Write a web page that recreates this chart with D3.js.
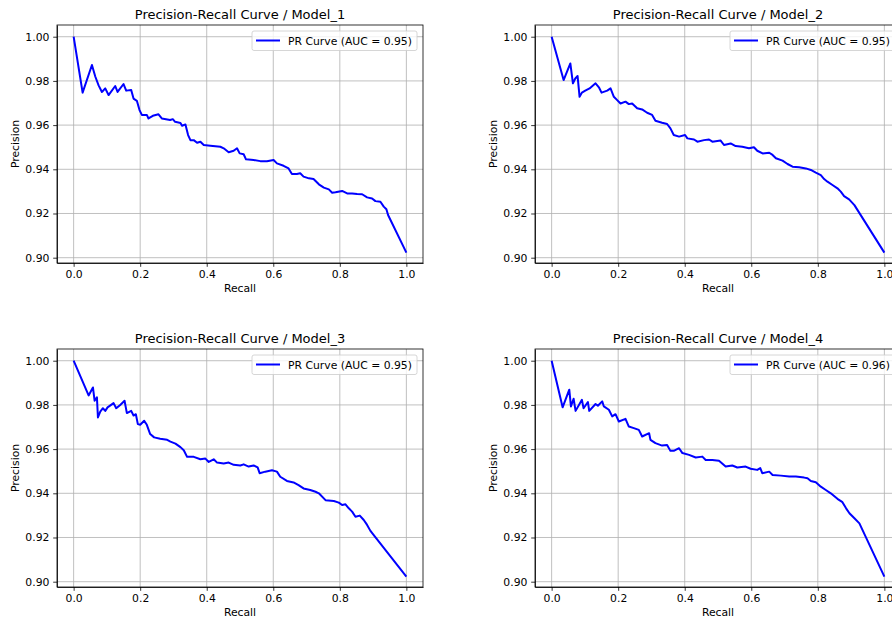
<!DOCTYPE html>
<html>
<head>
<meta charset="utf-8">
<script src="https://cdn.jsdelivr.net/npm/d3@7"></script>
<style>
  body { margin: 0; background: #fff; }
  svg { display: block; font-family: "DejaVu Sans", sans-serif; }
  .grid line { stroke: #b0b0b0; stroke-width: 0.8; }
  .axis path, .axis line { stroke: #000; stroke-width: 0.8; }
  .axis text { font-family: "DejaVu Sans", sans-serif; font-size: 10.8px; fill: #000; }
</style>
</head>
<body>
<svg width="892" height="619"></svg>
<script>
// chart values
var models = ["Model_1", "Model_2", "Model_3", "Model_4"];
var aucLabels = ["0.95", "0.95", "0.95", "0.96"];
var xTicks = [0.0, 0.2, 0.4, 0.6, 0.8, 1.0];
var yTicks = [0.90, 0.92, 0.94, 0.96, 0.98, 1.00];

var recall1 = [0, 0.027, 0.055, 0.065, 0.075, 0.085, 0.095, 0.105, 0.125, 0.132, 0.15, 0.158, 0.173, 0.18, 0.19, 0.198,
  0.205, 0.22, 0.225, 0.238, 0.255, 0.265, 0.29, 0.298, 0.305, 0.321, 0.326, 0.336, 0.344, 0.351, 0.361, 0.371,
  0.381, 0.391, 0.411, 0.441, 0.451, 0.466, 0.481, 0.491, 0.499, 0.511, 0.518, 0.541, 0.561, 0.581, 0.601, 0.611,
  0.631, 0.646, 0.656, 0.671, 0.681, 0.691, 0.707, 0.721, 0.737, 0.752, 0.767, 0.777, 0.787, 0.807, 0.822, 0.837,
  0.852, 0.867, 0.882, 0.897, 0.907, 0.922, 0.932, 0.940, 0.945, 1.0];
var precision1 = [1.000, 0.9747, 0.9872, 0.982, 0.978, 0.975, 0.9766, 0.9736, 0.9777, 0.975, 0.9786, 0.9756, 0.9759, 0.972, 0.971, 0.9668,
  0.9646, 0.9646, 0.963, 0.9642, 0.9649, 0.963, 0.9623, 0.9627, 0.9615, 0.961, 0.9597, 0.9603, 0.9555, 0.9532, 0.9532, 0.952,
  0.9525, 0.951, 0.9507, 0.9502, 0.9495, 0.9477, 0.9484, 0.9495, 0.9472, 0.9468, 0.9445, 0.9442, 0.9437, 0.9436, 0.9442, 0.9427,
  0.9416, 0.9404, 0.9379, 0.9379, 0.9382, 0.9367, 0.9359, 0.9356, 0.9332, 0.9317, 0.9309, 0.9294, 0.9296, 0.9302, 0.9291, 0.9291,
  0.9288, 0.9287, 0.9273, 0.9268, 0.9256, 0.9253, 0.9231, 0.9219, 0.9193, 0.9023];

var recall2 = [0, 0.036, 0.0562, 0.064, 0.071, 0.078, 0.084, 0.091, 0.101, 0.114, 0.132, 0.142, 0.15, 0.167, 0.177, 0.187,
  0.197, 0.207, 0.222, 0.232, 0.242, 0.257, 0.272, 0.287, 0.302, 0.312, 0.332, 0.347, 0.357, 0.367, 0.383, 0.401,
  0.408, 0.428, 0.438, 0.458, 0.473, 0.483, 0.508, 0.518, 0.538, 0.553, 0.573, 0.593, 0.608, 0.618, 0.634, 0.654,
  0.664, 0.674, 0.694, 0.709, 0.724, 0.744, 0.764, 0.779, 0.794, 0.809, 0.819, 0.829, 0.844, 0.859, 0.869, 0.879,
  0.894, 0.91, 1.0];
var precision2 = [1.000, 0.9804, 0.9879, 0.9789, 0.9811, 0.9822, 0.9728, 0.9747, 0.9756, 0.9766, 0.9789, 0.9771, 0.9747, 0.9756, 0.9766, 0.9728,
  0.9713, 0.9698, 0.9706, 0.9695, 0.9698, 0.9676, 0.9671, 0.9656, 0.9646, 0.962, 0.9611, 0.9605, 0.9585, 0.9555, 0.9548, 0.9555,
  0.954, 0.9535, 0.9525, 0.9532, 0.9535, 0.9525, 0.953, 0.951, 0.9517, 0.9505, 0.9502, 0.9495, 0.95, 0.9484, 0.9472, 0.9475,
  0.9465, 0.945, 0.9439, 0.9424, 0.9412, 0.9409, 0.9404, 0.9397, 0.9385, 0.9374, 0.9356, 0.9344, 0.9329, 0.9314, 0.9299, 0.9279,
  0.9264, 0.9238, 0.9023];

var recall3 = [0, 0.045, 0.058, 0.063, 0.07, 0.073, 0.08, 0.088, 0.095, 0.102, 0.12, 0.128, 0.14, 0.153, 0.16, 0.173,
  0.18, 0.187, 0.193, 0.2, 0.212, 0.22, 0.23, 0.242, 0.26, 0.281, 0.291, 0.306, 0.321, 0.331, 0.341, 0.361,
  0.381, 0.396, 0.406, 0.421, 0.431, 0.451, 0.466, 0.481, 0.501, 0.511, 0.526, 0.541, 0.553, 0.559, 0.576, 0.596,
  0.611, 0.621, 0.641, 0.661, 0.676, 0.691, 0.711, 0.727, 0.737, 0.757, 0.782, 0.797, 0.807, 0.817, 0.827, 0.837,
  0.847, 0.86, 0.872, 0.882, 0.892, 1.0];
var precision3 = [1.000, 0.9843, 0.9879, 0.9819, 0.9834, 0.9743, 0.977, 0.9785, 0.9773, 0.9789, 0.9808, 0.9785, 0.98, 0.9819, 0.9763, 0.9773,
  0.9752, 0.9758, 0.9713, 0.971, 0.9728, 0.971, 0.9668, 0.9653, 0.9647, 0.9642, 0.9634, 0.9625, 0.9609, 0.9595, 0.9565, 0.9565,
  0.9554, 0.9557, 0.9542, 0.9554, 0.9539, 0.9535, 0.9539, 0.9529, 0.9526, 0.9531, 0.9521, 0.9526, 0.9517, 0.9491, 0.9498, 0.9504,
  0.9498, 0.9475, 0.9456, 0.9449, 0.9437, 0.9422, 0.9415, 0.9407, 0.94, 0.9369, 0.9365, 0.9358, 0.9347, 0.935, 0.9332, 0.9317,
  0.9294, 0.9299, 0.9279, 0.9257, 0.923, 0.9023];

var recall4 = [0, 0.033, 0.053, 0.058, 0.066, 0.072, 0.091, 0.096, 0.109, 0.113, 0.132, 0.139, 0.152, 0.157, 0.172, 0.182,
  0.192, 0.202, 0.222, 0.232, 0.247, 0.262, 0.272, 0.293, 0.297, 0.312, 0.332, 0.347, 0.357, 0.367, 0.383, 0.393,
  0.413, 0.433, 0.453, 0.463, 0.483, 0.503, 0.523, 0.543, 0.558, 0.583, 0.598, 0.618, 0.627, 0.633, 0.654, 0.664,
  0.689, 0.714, 0.734, 0.759, 0.769, 0.779, 0.794, 0.809, 0.824, 0.839, 0.859, 0.874, 0.885, 0.895, 0.91, 0.925, 1.0];
var precision4 = [1.000, 0.9789, 0.9869, 0.9793, 0.9828, 0.9773, 0.9823, 0.9785, 0.9813, 0.9773, 0.9804, 0.9796, 0.9816, 0.9793, 0.9778, 0.9748,
  0.9758, 0.9725, 0.9737, 0.9702, 0.9695, 0.9687, 0.9657, 0.9672, 0.9642, 0.9627, 0.9616, 0.9619, 0.9592, 0.9592, 0.9604, 0.9582,
  0.9574, 0.9562, 0.9566, 0.9551, 0.9551, 0.9547, 0.9521, 0.9526, 0.9517, 0.9521, 0.9511, 0.9506, 0.9514, 0.9491, 0.9498, 0.9483,
  0.948, 0.9476, 0.9476, 0.9471, 0.9468, 0.9456, 0.945, 0.943, 0.9415, 0.94, 0.9375, 0.936, 0.9332, 0.931, 0.9287, 0.9264, 0.9023];

var recalls = [recall1, recall2, recall3, recall4];
var precisions = [precision1, precision2, precision3, precision4];

// layout of the 2x2 grid
var svg = d3.select("svg");
var pw = 366, ph = 238;
var origins = [[57, 25], [535, 25], [57, 349], [535, 349]];

var x = d3.scaleLinear().domain([-0.05, 1.05]).range([0, pw]);
var y = d3.scaleLinear().domain([0.8976, 1.0053]).range([ph, 0]);

var line = d3.line()
    .x(function(d) { return x(d[0]); })
    .y(function(d) { return y(d[1]); });

models.forEach(function(name, i) {
  var g = svg.append("g")
      .attr("transform", "translate(" + origins[i][0] + "," + origins[i][1] + ")");

  // grid
  var grid = g.append("g").attr("class", "grid");
  grid.selectAll(".gx").data(xTicks).enter().append("line")
      .attr("x1", function(d) { return x(d); }).attr("x2", function(d) { return x(d); })
      .attr("y1", 0).attr("y2", ph);
  grid.selectAll(".gy").data(yTicks).enter().append("line")
      .attr("y1", function(d) { return y(d); }).attr("y2", function(d) { return y(d); })
      .attr("x1", 0).attr("x2", pw);

  // curve
  var pts = recalls[i].map(function(r, j) { return [r, precisions[i][j]]; });
  g.append("path")
      .datum(pts)
      .attr("fill", "none")
      .attr("stroke", "#0000ff")
      .attr("stroke-width", 2)
      .attr("stroke-linejoin", "round")
      .attr("d", line);

  // axes
  g.append("g")
      .attr("class", "axis")
      .attr("transform", "translate(0," + ph + ")")
      .call(d3.axisBottom(x).tickValues(xTicks).tickFormat(d3.format(".1f")).tickSizeInner(3.8).tickSizeOuter(0).tickPadding(3.8));
  g.append("g")
      .attr("class", "axis")
      .call(d3.axisLeft(y).tickValues(yTicks).tickFormat(d3.format(".2f")).tickSizeInner(3.8).tickSizeOuter(0).tickPadding(3.8));

  // frame
  g.append("rect")
      .attr("width", pw).attr("height", ph)
      .attr("fill", "none").attr("stroke", "#000").attr("stroke-width", 0.8);

  // labels
  g.append("text")
      .attr("x", pw / 2).attr("y", -6)
      .attr("text-anchor", "middle")
      .attr("font-size", "13px")
      .text("Precision-Recall Curve / " + name);
  g.append("text")
      .attr("x", pw / 2).attr("y", ph + 29)
      .attr("text-anchor", "middle")
      .attr("font-size", "10.8px")
      .text("Recall");
  g.append("text")
      .attr("transform", "translate(-38," + (ph / 2) + ") rotate(-90)")
      .attr("text-anchor", "middle")
      .attr("font-size", "10.8px")
      .text("Precision");

  // legend
  var lg = g.append("g").attr("transform", "translate(" + (pw - 171) + ",6)");
  lg.append("rect")
      .attr("width", 165).attr("height", 19.5).attr("rx", 2)
      .attr("fill", "#fff").attr("fill-opacity", 0.8)
      .attr("stroke", "#cccccc").attr("stroke-width", 0.8);
  lg.append("line")
      .attr("x1", 4).attr("x2", 28).attr("y1", 9.5).attr("y2", 9.5)
      .attr("stroke", "#0000ff").attr("stroke-width", 2);
  lg.append("text")
      .attr("x", 36).attr("y", 13.6)
      .attr("font-size", "10.8px")
      .text("PR Curve (AUC = " + aucLabels[i] + ")");
});
</script>
</body>
</html>
